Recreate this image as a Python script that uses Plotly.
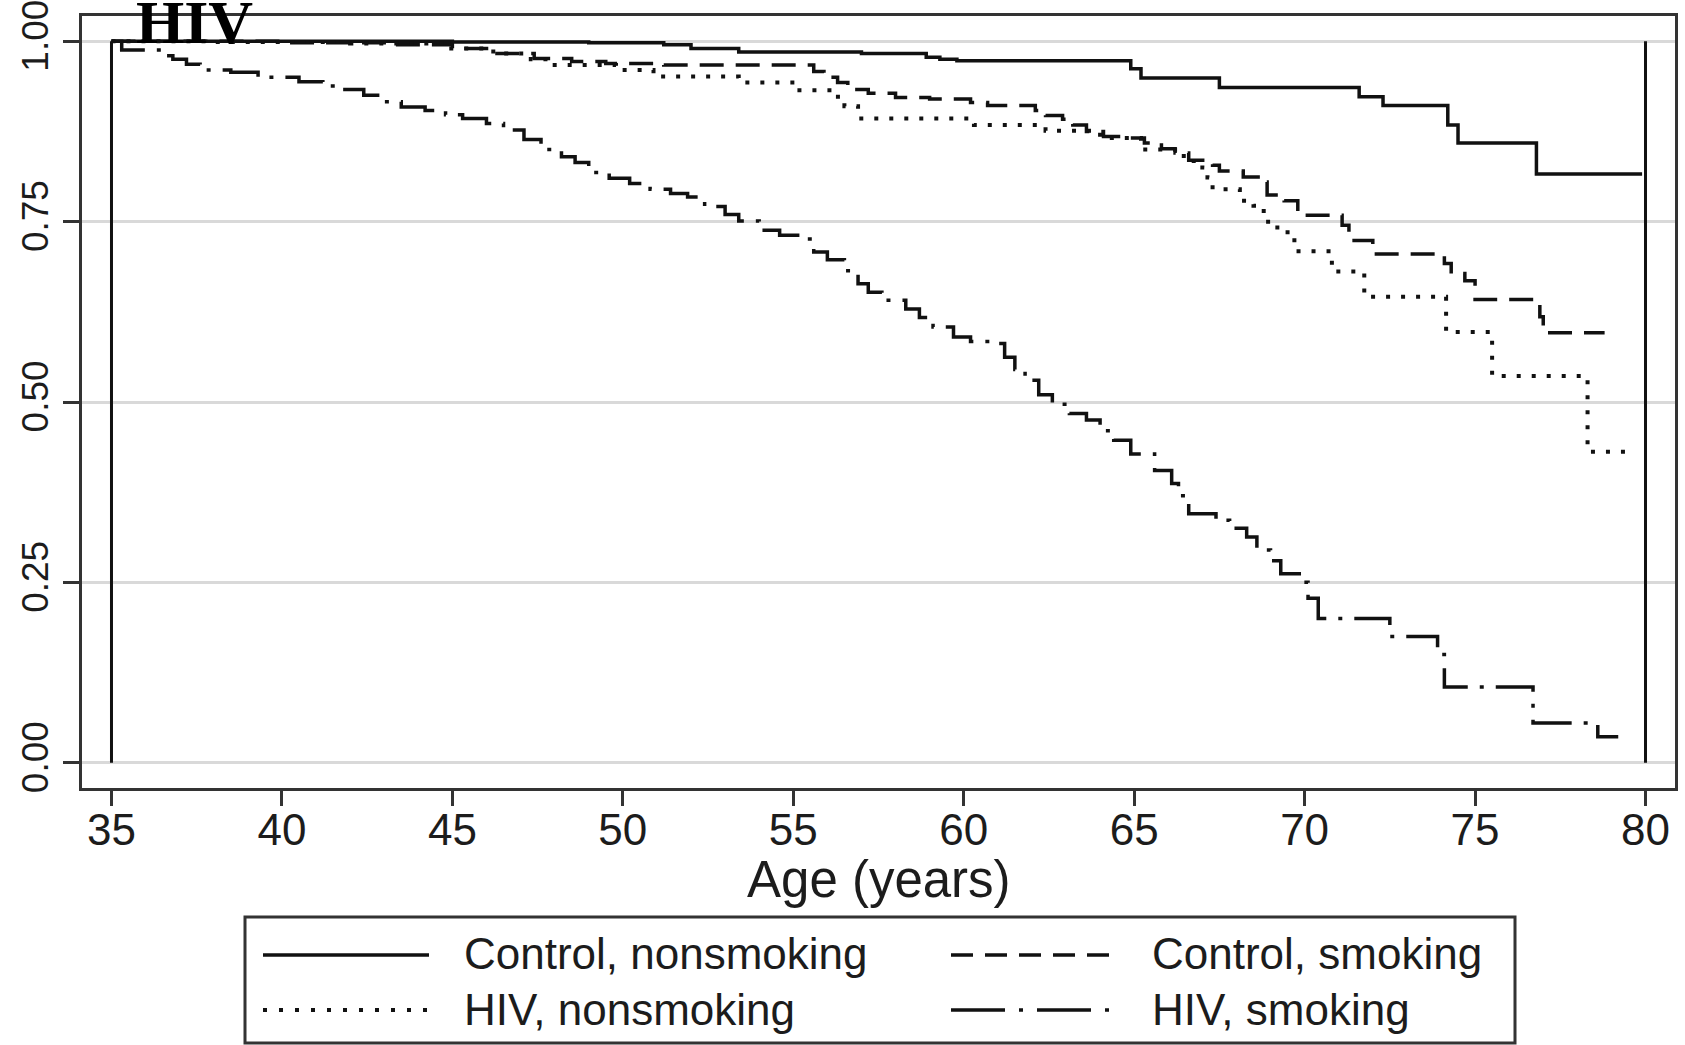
import plotly.graph_objects as go

# ---------------- data ----------------
ctrl_ns_age = [35, 45, 49, 51.2, 52.0, 53.4, 57.0, 58.9, 59.3, 59.8, 64.9, 65.2, 67.5,
               71.6, 72.3, 74.2, 74.5, 76.8, 79.9]
ctrl_ns_surv = [1.0, 0.999, 0.998, 0.995, 0.990, 0.985, 0.983, 0.978, 0.975, 0.973, 0.962,
                0.949, 0.936, 0.923, 0.911, 0.884, 0.859, 0.816, 0.816]

ctrl_s_age = [35, 40, 43, 45, 46.1, 47.4, 48.5, 49.5, 51.2, 55.6, 55.9, 56.3, 56.6, 57.2,
              58.0, 59.0, 60.2, 60.7, 62.1, 62.4, 62.9, 63.2, 63.6, 64.1, 64.6, 65.3, 65.8,
              66.2, 66.6, 67.3, 67.5, 68.2, 68.7, 68.9, 69.4, 69.8, 71.1, 71.3, 72.0, 74.1,
              74.3, 74.7, 75.0, 76.9, 77.0, 78.8]
ctrl_s_surv = [1.0, 0.998, 0.995, 0.990, 0.983, 0.976, 0.972, 0.969, 0.967, 0.958, 0.950,
               0.943, 0.933, 0.928, 0.922, 0.920, 0.915, 0.911, 0.904, 0.897, 0.892, 0.884,
               0.875, 0.868, 0.866, 0.859, 0.851, 0.845, 0.835, 0.828, 0.820, 0.812, 0.805,
               0.787, 0.779, 0.759, 0.745, 0.724, 0.705, 0.692, 0.678, 0.668, 0.642, 0.618,
               0.596, 0.596]

hiv_ns_age = [35, 38, 42, 44.9, 46.2, 47.3, 47.8, 49.8, 50.9, 53.4, 55.1, 56.2, 56.5, 56.9,
              60.3, 62.4, 64.0, 65.2, 66.2, 66.6, 67.0, 67.15, 67.3, 68.1, 68.5, 68.8, 69.2,
              69.5, 69.7, 70.8, 71.75, 74.15, 75.5, 78.3, 79.7]
hiv_ns_surv = [1.0, 0.999, 0.997, 0.990, 0.983, 0.975, 0.967, 0.960, 0.951, 0.943, 0.932,
               0.923, 0.910, 0.893, 0.884, 0.876, 0.866, 0.850, 0.841, 0.834, 0.825, 0.811,
               0.795, 0.779, 0.772, 0.750, 0.742, 0.730, 0.709, 0.681, 0.646, 0.597, 0.536,
               0.431, 0.431]

hiv_s_age = [35, 35.3, 36.5, 36.8, 37.2, 37.6, 38.5, 39.3, 40.5, 41.2, 41.7, 42.4, 43.0, 43.5,
             44.2, 44.8, 45.3, 46.0, 46.5, 47.1, 47.6, 48.2, 48.6, 49.0, 49.6, 50.2, 50.8,
             51.4, 51.9, 52.4, 53.0, 53.4, 54.0, 54.6, 55.2, 55.6, 56.0, 56.5, 56.9, 57.2,
             57.6, 58.3, 58.7, 59.1, 59.7, 60.2, 60.8, 61.2, 61.5, 61.8, 62.2, 62.6, 63.1,
             63.6, 64.0, 64.4, 64.9, 65.6, 66.1, 66.3, 66.6, 67.4, 67.8, 68.3, 68.6, 69.0,
             69.3, 69.9, 70.1, 70.4, 72.5, 73.9, 74.1, 76.7, 78.6, 79.2]
hiv_s_surv = [1.0, 0.988, 0.980, 0.975, 0.968, 0.960, 0.957, 0.950, 0.944, 0.938, 0.933,
              0.925, 0.916, 0.909, 0.904, 0.898, 0.893, 0.886, 0.877, 0.864, 0.850, 0.840,
              0.832, 0.818, 0.810, 0.803, 0.795, 0.789, 0.784, 0.771, 0.760, 0.751, 0.738,
              0.731, 0.726, 0.708, 0.697, 0.682, 0.664, 0.652, 0.641, 0.629, 0.617, 0.604,
              0.590, 0.584, 0.581, 0.562, 0.545, 0.530, 0.510, 0.497, 0.484, 0.475, 0.460,
              0.447, 0.428, 0.405, 0.387, 0.370, 0.345, 0.336, 0.325, 0.313, 0.295, 0.280,
              0.262, 0.250, 0.228, 0.200, 0.175, 0.150, 0.105, 0.055, 0.036, 0.036]

series_names = ["Control, nonsmoking", "Control, smoking", "HIV, nonsmoking", "HIV, smoking"]
x_ticks = [35, 40, 45, 50, 55, 60, 65, 70, 75, 80]
y_ticks = [0, 0.25, 0.5, 0.75, 1.0]
y_tick_labels = ["0.00", "0.25", "0.50", "0.75", "1.00"]
panel_title = "HIV"
x_title = "Age (years)"

# ---------------- styling / layout ----------------
W, H = 1685, 1045
L, R, T, B = 82, 10, 16, 257
PW, PH = W - L - R, H - T - B
FONT = "Liberation Sans, Arial, Helvetica, sans-serif"
INK = "#1c1c1c"
FRAME = "#333333"

def px(xp):
    return (xp - L) / PW

def py(yp):
    return (H - B - yp) / PH

dashes = ["solid", "24px,12px", "4px,11px", "42px,12px,4px,12px"]
legend_dashes = ["solid", "22px,12px", "4px,12px", "54px,14px,4px,14px"]
widths = [3.5, 3.5, 4, 3.5]

fig = go.Figure()
data = [(ctrl_ns_age, ctrl_ns_surv), (ctrl_s_age, ctrl_s_surv),
        (hiv_ns_age, hiv_ns_surv), (hiv_s_age, hiv_s_surv)]
for (a, s), name, d, w in zip(data, series_names, dashes, widths):
    fig.add_trace(go.Scatter(x=a, y=s, mode="lines", name=name, showlegend=False,
                             line=dict(color="#111111", width=w, dash=d, shape="hv")))

shapes = []
# vertical reference lines at the ends of the follow-up window
for xv in (x_ticks[0], x_ticks[-1]):
    shapes.append(dict(type="line", xref="x", yref="y", x0=xv, x1=xv, y0=0, y1=1,
                       line=dict(color="#111111", width=3)))

# manual legend (long line samples, as in the reference)
shapes.append(dict(type="rect", xref="paper", yref="paper",
                   x0=px(245), x1=px(1515), y0=py(1043), y1=py(917),
                   line=dict(color=FRAME, width=3), fillcolor="rgba(0,0,0,0)"))
annotations = []
slots = [(263, 429, 462, 955), (951, 1121, 1150, 955),
         (263, 429, 462, 1010), (951, 1121, 1150, 1010)]
for (xa, xb, xt, yy), name, d, w in zip(slots, series_names, legend_dashes, widths):
    shapes.append(dict(type="line", xref="paper", yref="paper",
                       x0=px(xa), x1=px(xb), y0=py(yy), y1=py(yy),
                       line=dict(color="#111111", width=w, dash=d)))
    annotations.append(dict(xref="paper", yref="paper", x=px(xt), y=py(yy - 1),
                            xanchor="left", yanchor="middle", showarrow=False,
                            text=name, font=dict(family=FONT, size=44, color=INK)))

# x-axis title placed as a centred annotation under the tick labels
annotations.append(dict(xref="paper", yref="paper", x=0.5, y=py(879),
                        xanchor="center", yanchor="middle", showarrow=False,
                        text=x_title, font=dict(family=FONT, size=51, color=INK)))

fig.update_layout(
    width=W, height=H,
    margin=dict(l=L, r=R, t=T, b=B, pad=0, autoexpand=False),
    paper_bgcolor="white", plot_bgcolor="white",
    shapes=shapes, annotations=annotations,
    title=dict(text="<b>" + panel_title + "</b>", x=136 / W, xanchor="left",
               xref="container", yref="container", y=1 - 21 / H, yanchor="middle",
               automargin=False,
               font=dict(family="Liberation Serif, Times New Roman, serif", size=62,
                         color="#000000")),
    font=dict(family=FONT, color=INK),
)

fig.update_xaxes(
    range=[34.135, 80.865], autorange=False, tickvals=x_ticks, ticks="outside", ticklen=15,
    tickwidth=2.5, tickcolor=FRAME, tickfont=dict(family=FONT, size=44, color=INK),
    ticklabelstandoff=-14, automargin=False,
    showline=True, mirror=True, linewidth=3, linecolor=FRAME,
    showgrid=False, zeroline=False,
)
fig.update_yaxes(
    range=[-0.035, 1.035], autorange=False, tickvals=y_ticks, ticktext=y_tick_labels,
    tickangle=-90, automargin=False,
    ticks="outside", ticklen=16, tickwidth=2.5, tickcolor=FRAME,
    tickfont=dict(family=FONT, size=37, color=INK), ticklabeloverflow="allow",
    showline=True, mirror=True, linewidth=3, linecolor=FRAME,
    showgrid=True, gridcolor="#d9d9d9", gridwidth=3, zeroline=False,
)

fig.write_html("out.html", config={"displayModeBar": False},
               post_script="document.body.style.margin='0px';")
